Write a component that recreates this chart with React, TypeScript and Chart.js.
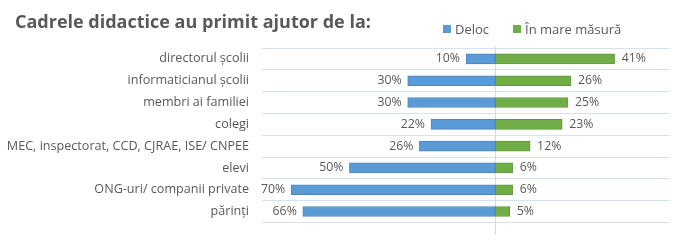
import React, { useEffect, useRef } from "react";
import { Chart, registerables } from "chart.js";

Chart.register(...registerables);

const categories = [
  "directorul școlii",
  "informaticianul școlii",
  "membri ai familiei",
  "colegi",
  "MEC, inspectorat, CCD, CJRAE, ISE/ CNPEE",
  "elevi",
  "ONG-uri/ companii private",
  "părinți",
];
const delocValues = [10, 30, 30, 22, 26, 50, 70, 66];
const mareValues = [41, 26, 25, 23, 12, 6, 6, 5];
const seriesNames = ["Deloc", "În mare măsură"];
const titleText = "Cadrele didactice au primit ajutor de la:";

const BLUE = "#5B9BD5";
const GREEN = "#70AD47";
const TEXT = "#595959";
const FONT = "'Open Sans', sans-serif";

export default function App() {
  const ref = useRef<HTMLCanvasElement | null>(null);

  useEffect(() => {
    if (!ref.current) return;
    const labelPlugin = {
      id: "barLabels",
      afterDatasetsDraw(chart: any) {
        const ctx = chart.ctx;
        ctx.save();
        ctx.font = `12.3px ${FONT}`;
        ctx.fillStyle = TEXT;
        ctx.textBaseline = "middle";
        chart.data.datasets.forEach((ds: any, di: number) => {
          const meta = chart.getDatasetMeta(di);
          meta.data.forEach((bar: any, i: number) => {
            const v = Math.abs(ds.data[i]);
            const txt = `${v}%`;
            if (di === 0) {
              ctx.textAlign = "right";
              ctx.fillText(txt, bar.x - 6, bar.y);
            } else {
              ctx.textAlign = "left";
              ctx.fillText(txt, bar.x + 7, bar.y);
            }
          });
        });
        ctx.restore();
      },
      beforeDatasetsDraw(chart: any) {
        const ctx = chart.ctx;
        const x0 = chart.scales.x.getPixelForValue(0);
        const { top, bottom } = chart.chartArea;
        ctx.save();
        ctx.strokeStyle = "#D9D9D9";
        ctx.lineWidth = 1;
        ctx.beginPath();
        ctx.moveTo(Math.round(x0) + 0.5, top - 2);
        ctx.lineTo(Math.round(x0) + 0.5, bottom + 12);
        ctx.stroke();
        ctx.restore();
      },
    };

    const chart = new Chart(ref.current, {
      type: "bar",
      data: {
        labels: categories,
        datasets: [
          {
            label: seriesNames[0],
            data: delocValues.map((v) => -v),
            backgroundColor: BLUE,
            borderColor: "#4A86C0",
            borderWidth: 1,
            borderSkipped: false,
            barThickness: 10,
          },
          {
            label: seriesNames[1],
            data: mareValues,
            backgroundColor: GREEN,
            borderColor: "#5E9A3A",
            borderWidth: 1,
            borderSkipped: false,
            barThickness: 10,
          },
        ],
      },
      options: {
        indexAxis: "y",
        animation: false,
        responsive: false,
        maintainAspectRatio: false,
        layout: { padding: { top: 48, right: 12, bottom: 13, left: 0 } },
        plugins: {
          legend: { display: false },
          title: { display: false },
          tooltip: { enabled: false },
        },
        scales: {
          x: {
            display: false,
            stacked: true,
            min: -80,
            max: 60,
          },
          y: {
            stacked: true,
            afterFit: (scale: any) => {
              scale.width = 262;
            },
            border: { display: false },
            grid: { color: "#D6E0F0", lineWidth: 1, drawTicks: false, offset: true },
            ticks: {
              color: TEXT,
              font: { family: FONT, size: 12.6 },
              padding: 13,
            },
          },
        },
      },
      plugins: [labelPlugin],
    });
    return () => chart.destroy();
  }, []);

  return (
    <div
      style={{
        position: "fixed",
        left: 0,
        top: 0,
        width: 682,
        height: 243,
        background: "#fff",
        overflow: "hidden",
      }}
    >
      <canvas ref={ref} width={682} height={243} style={{ position: "absolute", left: 0, top: 0 }} />
      <div
        style={{
          position: "absolute",
          left: 15,
          top: 9,
          fontFamily: FONT,
          fontWeight: 700,
          fontSize: 18,
          color: TEXT,
          whiteSpace: "nowrap",
          lineHeight: "24px",
        }}
      >
        {titleText}
      </div>
      <div
        style={{
          position: "absolute",
          left: 443,
          top: 20,
          display: "flex",
          alignItems: "center",
          fontFamily: FONT,
          fontSize: 13,
          color: TEXT,
          whiteSpace: "nowrap",
          lineHeight: "18px",
        }}
      >
        <span style={{ width: 8, height: 8, background: BLUE, display: "inline-block", marginRight: 4 }} />
        <span style={{ marginRight: 24 }}>{seriesNames[0]}</span>
        <span style={{ width: 8, height: 8, background: GREEN, display: "inline-block", marginRight: 4 }} />
        <span>{seriesNames[1]}</span>
      </div>
    </div>
  );
}
